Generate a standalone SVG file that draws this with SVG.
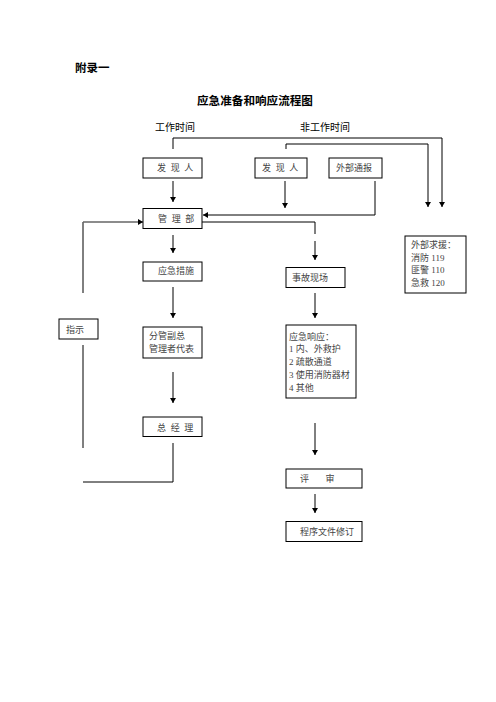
<svg xmlns="http://www.w3.org/2000/svg" width="496" height="702" viewBox="0 0 496 702">
<style>
.bg{fill:#fff}
.box{fill:#fff;stroke:#000;stroke-width:1}
.t{font-family:"Liberation Serif","Noto Sans CJK SC",serif;font-size:9px;fill:#444}
.sp{letter-spacing:1.2px}
.h{font-family:"Liberation Sans","Noto Sans CJK SC",sans-serif;fill:#000}
.ln{fill:none;stroke:#000;stroke-width:1}
.gl{fill:none;stroke:#666;stroke-width:1.6}
</style>
<defs>
<marker id="ar" markerUnits="userSpaceOnUse" markerWidth="6" markerHeight="6" refX="5" refY="3" orient="auto">
<path d="M0,0 L5,3 L0,6 Z" fill="#000"/>
</marker>
</defs>
<rect class="bg" x="0" y="0" width="496" height="702"/>
<text class="h" x="75" y="72" font-size="11.5" font-weight="bold">附录一</text>
<text class="h" x="197" y="105" font-size="11.6" font-weight="bold">应急准备和响应流程图</text>
<text class="h" x="155" y="131" font-size="10">工作时间</text>
<text class="h" x="300" y="131" font-size="10">非工作时间</text>

<g id="connectors">
<polyline class="ln" points="173,149 173,138 442,138 442,207" marker-end="url(#ar)"/>
<polyline class="ln" points="286,149 286,144 428,144 428,207" marker-end="url(#ar)"/>
<line class="ln" x1="173" y1="181" x2="173" y2="202" marker-end="url(#ar)"/>
<line class="ln" x1="285" y1="181" x2="285" y2="208" marker-end="url(#ar)"/>
<polyline class="ln" points="375,181 375,215 203,215" marker-end="url(#ar)"/>
<polyline class="ln" points="202,222 315,222 315,234"/>
<line class="ln" x1="315" y1="241" x2="315" y2="260" marker-end="url(#ar)"/>
<line class="ln" x1="173" y1="235" x2="173" y2="253" marker-end="url(#ar)"/>
<line class="ln" x1="173" y1="287" x2="173" y2="318" marker-end="url(#ar)"/>
<line class="ln" x1="173" y1="372" x2="173" y2="403" marker-end="url(#ar)"/>
<polyline class="ln" points="173,443 173,482 83,482"/>
<line class="ln" x1="83" y1="222" x2="83" y2="293"/>
<line class="ln" x1="83" y1="345" x2="83" y2="448"/>
<line class="gl" x1="83" y1="222" x2="143" y2="222" marker-end="url(#ar)"/>
<line class="ln" x1="315" y1="293" x2="315" y2="318" marker-end="url(#ar)"/>
<line class="ln" x1="315" y1="423" x2="315" y2="455" marker-end="url(#ar)"/>
<line class="ln" x1="315" y1="494" x2="315" y2="513" marker-end="url(#ar)"/>
</g>

<g id="faxianren1"><rect class="box" x="143" y="158" width="59" height="20"/><text class="t sp" x="157" y="171">发 现 人</text></g>
<g id="faxianren2"><rect class="box" x="255" y="158" width="52" height="20"/><text class="t sp" x="262" y="171">发 现 人</text></g>
<g id="waibutongbao"><rect class="box" x="329" y="158" width="53" height="20"/><text class="t" x="336" y="171">外部通报</text></g>
<g id="guanlibu"><rect class="box" x="143" y="208.5" width="59" height="20"/><text class="t sp" x="158" y="221.5">管 理 部</text></g>
<g id="yingjicuoshi"><rect class="box" x="143" y="262" width="59" height="19"/><text class="t" x="158" y="274">应急措施</text></g>
<g id="shiguxianchang"><rect class="box" x="286" y="267.5" width="59" height="20"/><text class="t" x="292" y="281">事故现场</text></g>
<g id="waibuqiuyuan"><rect class="box" x="405" y="236" width="61" height="57"/>
<text class="t" x="411" y="248">外部求援：</text>
<text class="t" x="411" y="260.5">消防 119</text>
<text class="t" x="411" y="273">匪警 110</text>
<text class="t" x="411" y="286">急救 120</text></g>
<g id="zhishi"><rect class="box" x="59" y="319" width="39" height="20"/><text class="t" x="66" y="332.5">指示</text></g>
<g id="fenguanfuzong"><rect class="box" x="143" y="327" width="59" height="31"/>
<text class="t" x="149" y="339">分管副总</text>
<text class="t" x="149" y="352">管理者代表</text></g>
<g id="yingjixiangying"><rect class="box" x="286" y="325" width="70" height="73"/>
<text class="t" x="289" y="340">应急响应：</text>
<text class="t" x="289" y="352">1 内、外救护</text>
<text class="t" x="289" y="365">2 疏散通道</text>
<text class="t" x="289" y="377.5">3 使用消防器材</text>
<text class="t" x="289" y="390.5">4 其他</text></g>
<g id="zongjingli"><rect class="box" x="143" y="417" width="59" height="19.5"/><text class="t sp" x="157" y="431">总 经 理</text></g>
<g id="pingshen"><rect class="box" x="286" y="469" width="76" height="19"/><text class="t" x="300" y="482">评</text><text class="t" x="325.5" y="482">审</text></g>
<g id="chengxuwenjian"><rect class="box" x="286" y="521.5" width="76" height="20"/><text class="t" x="300" y="535">程序文件修订</text></g>
</svg>
